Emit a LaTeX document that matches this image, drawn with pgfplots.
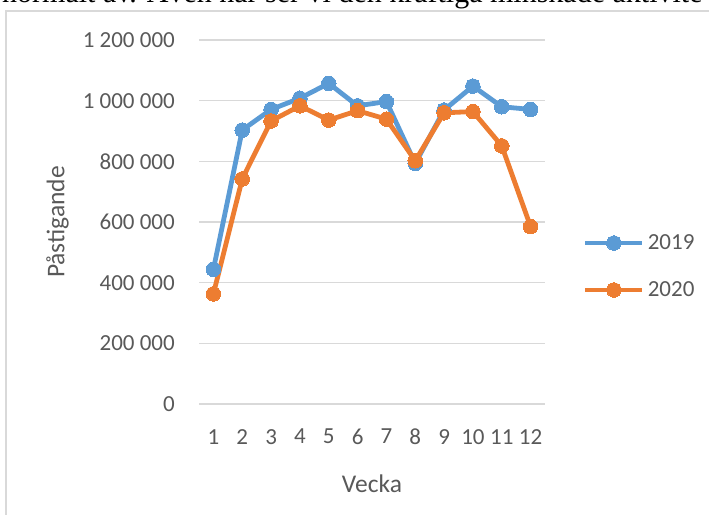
\documentclass[border=0pt]{standalone}
\usepackage{fontspec}
\setmainfont{Carlito}
\newfontfamily\bodyserif{Liberation Serif}
\usepackage{pgfplots}
\pgfplotsset{compat=1.18}
\definecolor{txt}{HTML}{595959}
\definecolor{grd}{HTML}{D9D9D9}
\definecolor{sA}{HTML}{5B9BD5}
\definecolor{sB}{HTML}{ED7D31}
\begin{document}
\begin{tikzpicture}
\clip (0pt,0pt) rectangle (709pt,514pt);
\node[anchor=base west, inner sep=0pt, font=\bodyserif\fontsize{30}{36}\selectfont] at (2pt,511pt) {normalt av. Även när ser vi den kraftiga minskade aktivite};
\draw[grd, line width=1.5pt] (6pt,-5pt) -- (6pt,503pt) -- (720pt,503pt);
\begin{axis}[
  at={(199pt,110pt)}, anchor=south west,
  scale only axis, width=346pt, height=364pt,
  xmin=0.5, xmax=12.5, ymin=0, ymax=1200000,
  xtick={1,...,12}, ytick={0,200000,...,1200000},
  axis line style={draw=none}, major tick length=0pt,
  ymajorgrids, major grid style={grd, line width=1.5pt},
  scaled y ticks=false,
  /pgf/number format/assume math mode=true,
  yticklabel style={/pgf/number format/fixed, /pgf/number format/precision=0, /pgf/number format/1000 sep={\ }},
  ticklabel style={font=\fontsize{23}{27}\selectfont, text=txt, inner sep=0pt},
  yticklabel style={anchor=east, xshift=-24pt},
  xticklabel style={anchor=north, yshift=-25pt},
  xlabel={Vecka}, ylabel={Påstigande},
  label style={font=\fontsize{25.5}{30}\selectfont, text=txt, inner sep=0pt},
  xlabel style={at={(axis description cs:0.5,-0.219)}, anchor=center},
  ylabel style={at={(axis description cs:-0.409,0.5)}, anchor=center},
  clip=false,
  legend style={at={(rel axis cs:1.1098,0.3777)}, anchor=west, draw=none, fill=none,
    inner sep=0pt, outer sep=0pt, nodes={inner sep=0pt}, row sep=30.5pt, column sep=3pt,
    font=\fontsize{23}{27}\selectfont, text=txt},
  legend cell align=left,
  legend image code/.code={\draw[mark repeat=2, mark phase=2, #1] plot coordinates {(0pt,0pt) (28.5pt,0pt) (57pt,0pt)};},
]
\addplot[sA, line width=4.8pt, line join=round, mark=*, mark size=7.3pt, mark options={fill=sA, draw=sA, line width=0pt}] coordinates {
(1,444000) (2,903000) (3,971000) (4,1008000) (5,1057000) (6,983000) (7,997000) (8,793000) (9,969000) (10,1048000) (11,980000) (12,971000)};
\addlegendentry{2019}
\addplot[sB, line width=4.8pt, line join=round, mark=*, mark size=7.3pt, mark options={fill=sB, draw=sB, line width=0pt}] coordinates {
(1,363000) (2,742000) (3,933000) (4,983000) (5,936000) (6,967000) (7,939000) (8,802000) (9,960000) (10,964000) (11,851000) (12,585000)};
\addlegendentry{2020}
\end{axis}
\end{tikzpicture}
\end{document}
